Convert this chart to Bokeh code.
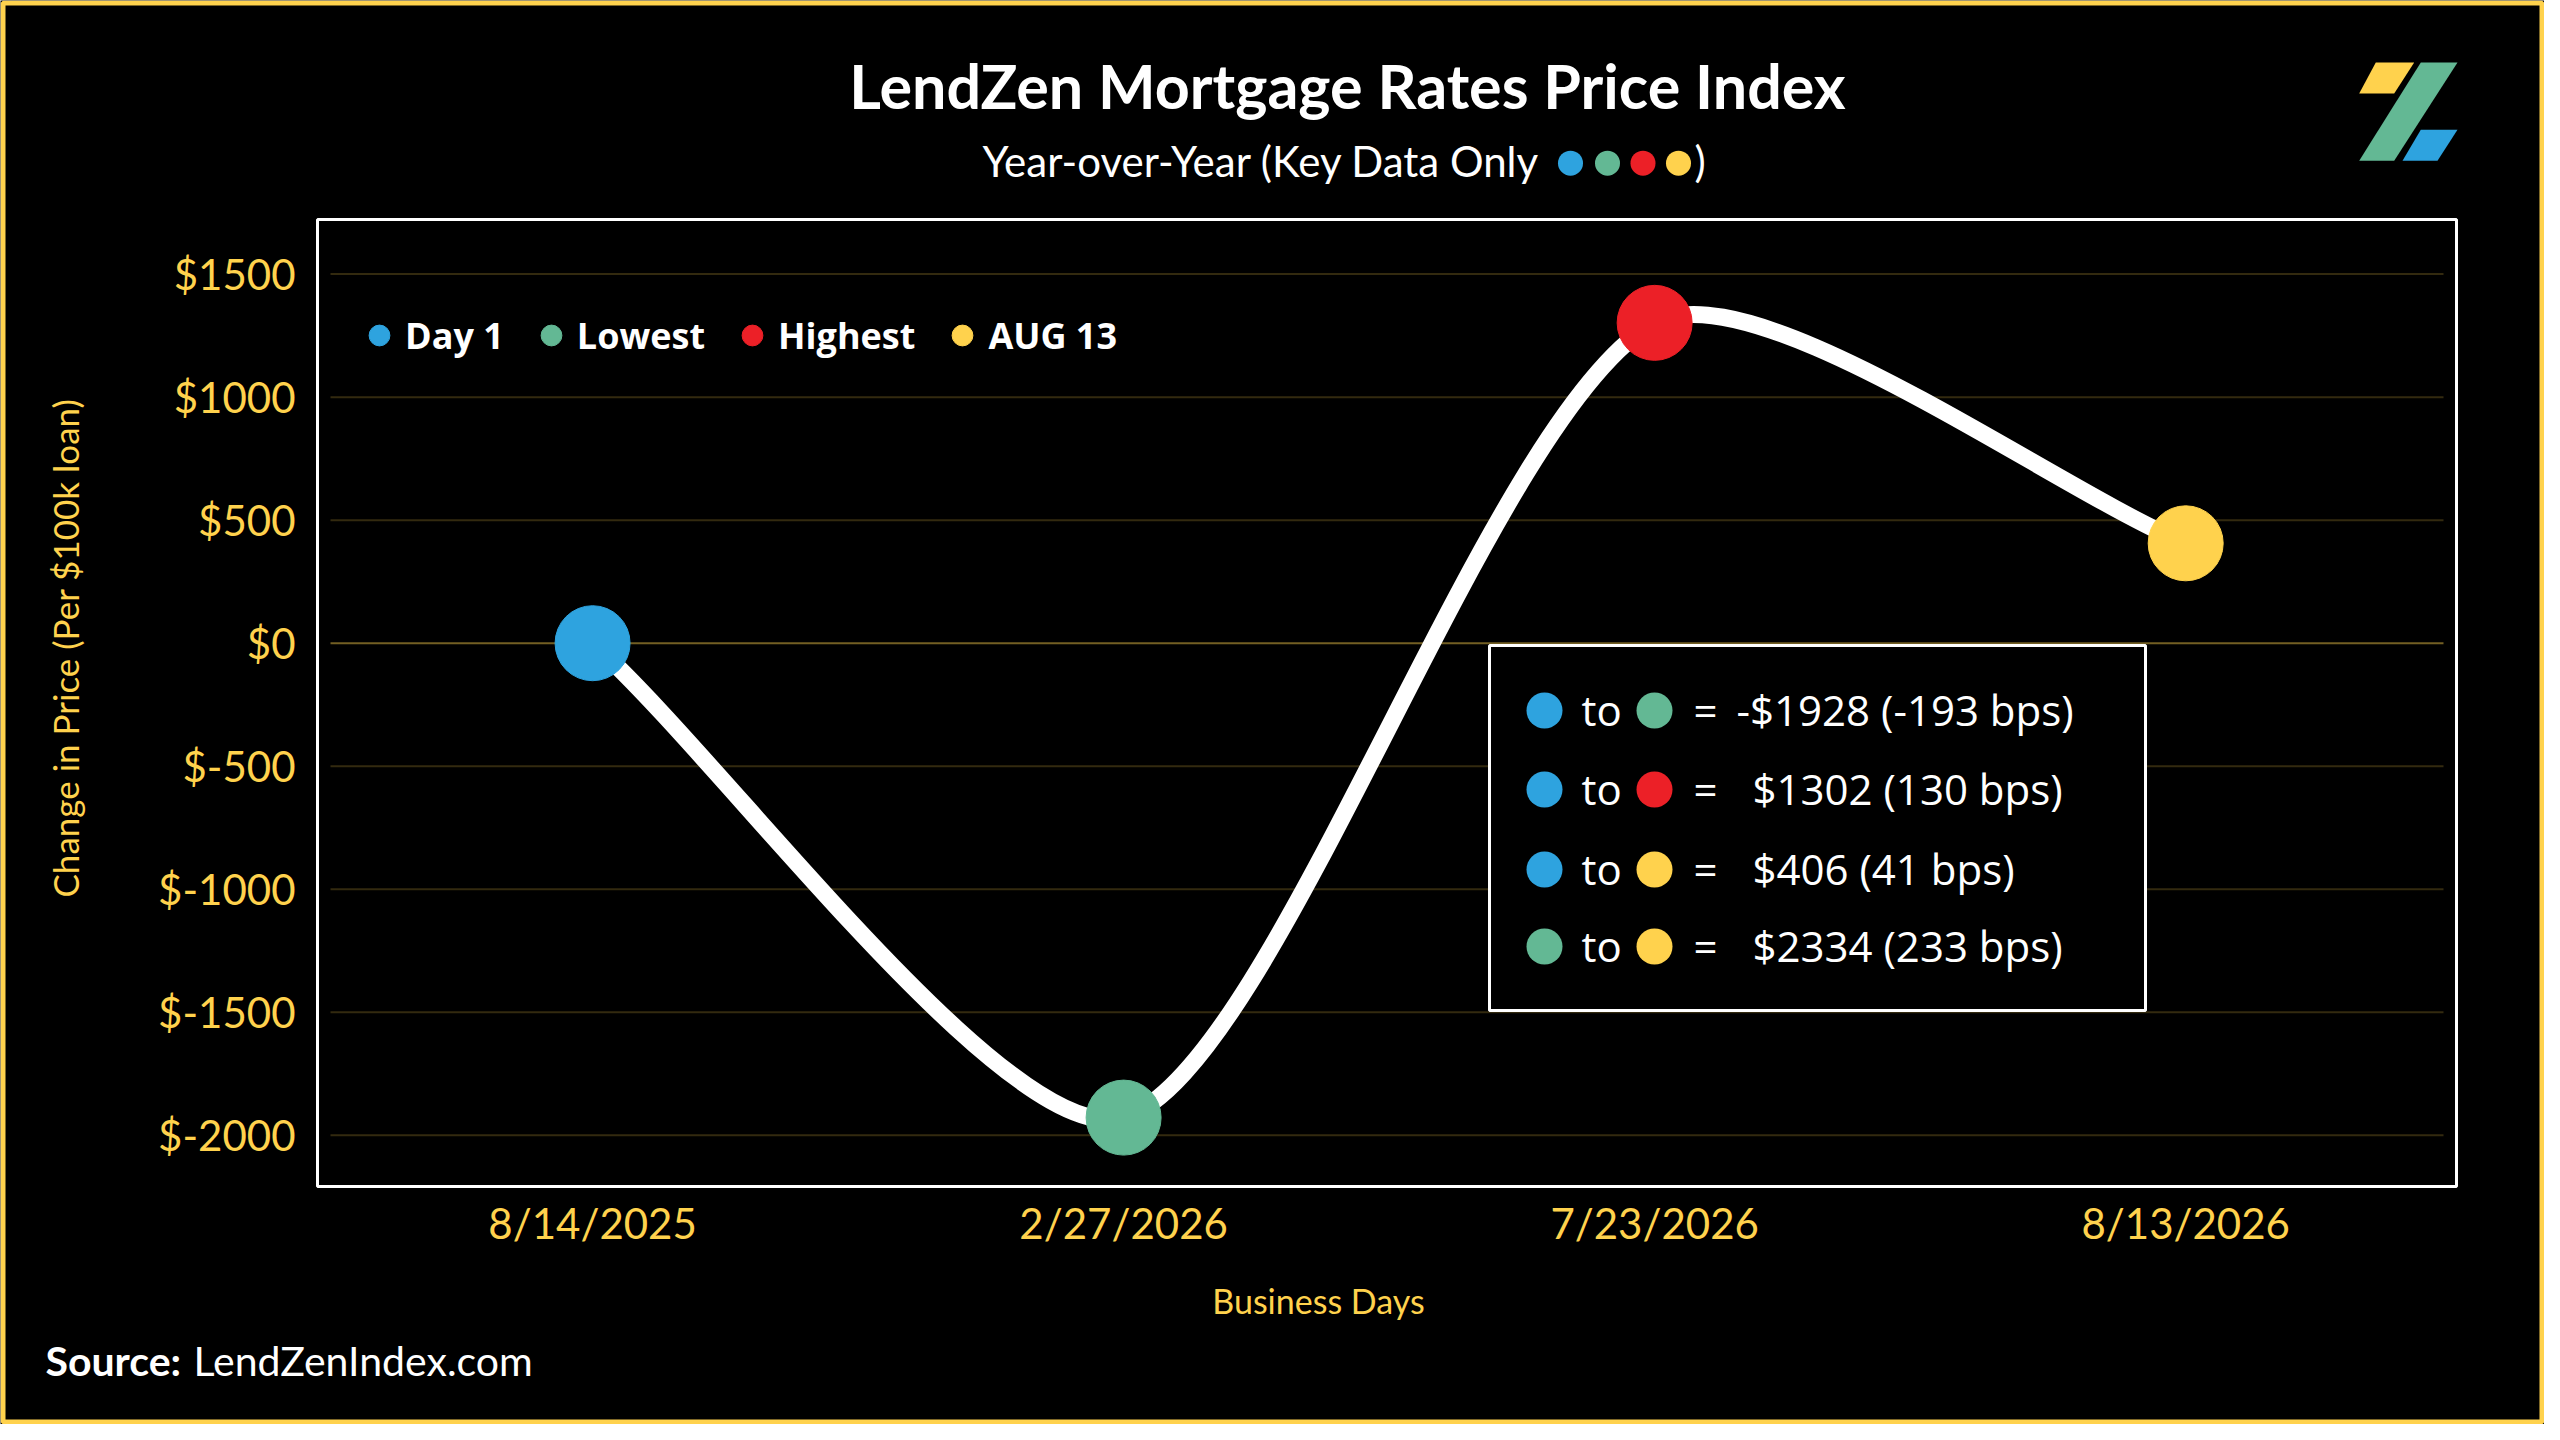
import math
from bokeh.plotting import figure
from bokeh.models import (Range1d, FixedTicker, Label, BoxAnnotation, PolyAnnotation,
                          Legend, LegendItem, ColumnDataSource)
from bokeh.embed import file_html
from bokeh.resources import INLINE

# ---------------- data ----------------
dates = ["8/14/2025", "2/27/2026", "7/23/2026", "8/13/2026"]
point_labels = ["Day 1", "Lowest", "Highest", "AUG 13"]
values = [0, -1928, 1302, 406]
point_colors = ["#2EA3DF", "#63B894", "#EC2027", "#FFD24D"]

y_ticks = [1500, 1000, 500, 0, -500, -1000, -1500, -2000]
y_tick_labels = ["$1500", "$1000", "$500", "$0", "$-500", "$-1000", "$-1500", "$-2000"]

summary_pairs = [(0, 1), (0, 2), (0, 3), (1, 3)]
summary_texts = ["-$1928 (-193 bps)", "$1302 (130 bps)", "$406 (41 bps)", "$2334 (233 bps)"]

title_text = "LendZen Mortgage Rates Price Index"
subtitle_text = "Year-over-Year (Key Data Only"
y_label_text = "Change in Price (Per $100k loan)"
x_label_text = "Business Days"
source_bold, source_text = "Source:", "LendZenIndex.com"

# ---------------- layout / style ----------------
YELLOW = "#FFD24D"
W, H = 2544, 1424
OFF = 8                                 # reference pixel -> canvas pixel offset
BOX_X = (-0.518, 3.51)                  # plot box extent, data units
BOX_Y = (-2208, 1722)
BOX_PX_L, BOX_PX_R, BOX_PX_T, BOX_PX_B = 317, 2456, 219, 1186   # plot box on canvas
TENSION = 0.25

xpx = (BOX_PX_R - BOX_PX_L) / (BOX_X[1] - BOX_X[0])
ypx = (BOX_PX_B - BOX_PX_T) / (BOX_Y[1] - BOX_Y[0])
x_range = Range1d(BOX_X[0] - BOX_PX_L / xpx, BOX_X[1] + (W - BOX_PX_R) / xpx)
y_range = Range1d(BOX_Y[0] - (H - BOX_PX_B) / ypx, BOX_Y[1] + BOX_PX_T / ypx)

x_idx = list(range(len(dates)))

p = figure(width=W, height=H, x_range=x_range, y_range=y_range,
           output_backend="svg", toolbar_location=None,
           background_fill_color="black", border_fill_color="black",
           min_border=0, min_border_left=0, min_border_right=0, min_border_top=0, min_border_bottom=0)
p.outline_line_color = None
p.xgrid.visible = False
p.ygrid.visible = False

# axes, pinned to the edges of the plot box
for ax in (p.xaxis[0], p.yaxis[0]):
    ax.axis_line_color = None
    ax.major_tick_line_color = None
    ax.minor_tick_line_color = None
    ax.major_label_text_font = "Lato"
    ax.major_label_text_font_size = "42px"
    ax.major_label_text_color = YELLOW
p.yaxis[0].fixed_location = BOX_X[0]
p.yaxis[0].ticker = FixedTicker(ticks=y_ticks)
p.yaxis[0].major_label_overrides = {t: l for t, l in zip(y_ticks, y_tick_labels)}
p.yaxis[0].major_label_standoff = 16
p.xaxis[0].fixed_location = BOX_Y[0]
p.xaxis[0].ticker = FixedTicker(ticks=x_idx)
p.xaxis[0].major_label_overrides = {i: d for i, d in zip(x_idx, dates)}
p.xaxis[0].major_label_standoff = 5

# horizontal grid lines at the y ticks, inside the plot box
gap = 13 / xpx
grid_src = ColumnDataSource(dict(
    x0=[BOX_X[0] + gap] * len(y_ticks), x1=[BOX_X[1] - gap] * len(y_ticks),
    y=y_ticks, alpha=[0.45 if t == 0 else 0.2 for t in y_ticks]))
p.segment(x0="x0", x1="x1", y0="y", y1="y", source=grid_src,
          line_color=YELLOW, line_alpha="alpha", line_width=2)

# plot box outline
p.add_layout(BoxAnnotation(left=BOX_X[0], right=BOX_X[1], bottom=BOX_Y[0], top=BOX_Y[1],
                           fill_alpha=0, line_color="white", line_alpha=1, line_width=3,
                           level="underlay"))

# smooth curve (cardinal spline -> bezier segments)
n = len(values)
px = [x * xpx for x in x_idx]
py = [v * ypx for v in values]
prev_c, next_c = [], []
for i in range(n):
    i0, i2 = max(i - 1, 0), min(i + 1, n - 1)
    d01 = math.hypot(px[i] - px[i0], py[i] - py[i0])
    d12 = math.hypot(px[i2] - px[i], py[i2] - py[i])
    tot = d01 + d12
    fa = TENSION * (d01 / tot if tot else 0)
    fb = TENSION * (d12 / tot if tot else 0)
    dx, dy = px[i2] - px[i0], py[i2] - py[i0]
    prev_c.append(((px[i] - fa * dx) / xpx, (py[i] - fa * dy) / ypx))
    next_c.append(((px[i] + fb * dx) / xpx, (py[i] + fb * dy) / ypx))
seg = dict(x0=x_idx[:-1], y0=values[:-1], x1=x_idx[1:], y1=values[1:],
           cx0=[c[0] for c in next_c[:-1]], cy0=[c[1] for c in next_c[:-1]],
           cx1=[c[0] for c in prev_c[1:]], cy1=[c[1] for c in prev_c[1:]])
p.bezier(source=ColumnDataSource(seg), x0="x0", y0="y0", x1="x1", y1="y1",
         cx0="cx0", cy0="cy0", cx1="cx1", cy1="cy1",
         line_color="white", line_width=17, line_cap="round")

pts = ColumnDataSource(dict(x=x_idx, y=values, color=point_colors, label=point_labels))
r_pts = p.scatter("x", "y", source=pts, size=75, fill_color="color", line_color="color")

legend = Legend(items=[LegendItem(label=point_labels[i], renderers=[r_pts], index=i) for i in range(n)],
                orientation="horizontal", location=(353, 1063), padding=0, margin=0, spacing=21,
                glyph_width=52, glyph_height=52, label_standoff=0,
                label_text_font="Open Sans", label_text_font_style="bold", label_text_font_size="36px",
                label_text_color="white", background_fill_alpha=0, border_line_alpha=0)
p.add_layout(legend)


# ---------------- helpers (positions given in reference pixels) ----------------
def sx(X):
    return X - OFF


def sy(Y):
    return H - (Y - OFF)


def lab(text, X, Y, size, color="white", style="normal", align="left", font="Lato", angle=0.0):
    p.add_layout(Label(x=sx(X), y=sy(Y), x_units="screen", y_units="screen", text=text,
                       text_font=font, text_font_size=f"{size}px", text_color=color,
                       text_font_style=style, text_align=align, text_baseline="middle",
                       angle=angle))


def dot(X, Y, d, color):
    r = d / 2
    p.add_layout(BoxAnnotation(left=sx(X - r), right=sx(X + r), bottom=sy(Y + r), top=sy(Y - r),
                               left_units="screen", right_units="screen",
                               bottom_units="screen", top_units="screen",
                               fill_color=color, fill_alpha=1, line_alpha=0,
                               border_radius=int(math.ceil(r)), level="overlay"))


def poly(pts_xy, color):
    p.add_layout(PolyAnnotation(xs=[sx(x) for x, _ in pts_xy], ys=[sy(y) for _, y in pts_xy],
                                xs_units="screen", ys_units="screen",
                                fill_color=color, fill_alpha=1, line_alpha=0))


# outer yellow border
p.add_layout(BoxAnnotation(left=2.5, right=W - 2.5, bottom=2.5, top=H - 2.5,
                           left_units="screen", right_units="screen",
                           bottom_units="screen", top_units="screen",
                           fill_alpha=0, line_color=YELLOW, line_alpha=1, line_width=5))

# title / subtitle
lab(title_text, 1355, 93, 61, style="bold", align="center")
lab(subtitle_text, 990, 168.4, 42)
for cx, c in zip([1578, 1615, 1650.5, 1686], point_colors):
    dot(cx, 170.7, 25, c)
lab(")", 1702, 168.4, 42)

# logo
poly([(2383.3, 70), (2421.7, 70), (2401.7, 101), (2366.7, 101)], point_colors[3])
poly([(2428.3, 70), (2465, 70), (2401.7, 168.3), (2366.7, 168.3)], point_colors[1])
poly([(2428.3, 137.3), (2465, 137.3), (2445, 168.3), (2410, 168.3)], point_colors[0])

# axis titles
lab(y_label_text, 72, 655.5, 35, color=YELLOW, align="center", angle=math.pi / 2)
lab(x_label_text, 1326, 1307.5, 34, color=YELLOW, align="center")

# source
lab(source_bold, 53, 1367.5, 41, style="bold")
lab(source_text, 201, 1367.5, 41)

# summary box
p.add_layout(BoxAnnotation(left=sx(1497), right=sx(2153), bottom=sy(1018), top=sy(653),
                           left_units="screen", right_units="screen",
                           bottom_units="screen", top_units="screen",
                           fill_color="black", fill_alpha=1, line_color="white", line_alpha=1,
                           line_width=3))
rows_y = [718, 797, 877, 954]
for (a, b), txt, ry in zip(summary_pairs, summary_texts, rows_y):
    dot(1552, ry, 36, point_colors[a])
    lab("to", 1589, ry - 1, 42, font="Open Sans")
    dot(1662, ry, 36, point_colors[b])
    lab("=", 1713, ry - 1, 42, font="Open Sans", align="center")
    lab(txt, 1744 if txt.startswith("-") else 1760, ry - 1, 42, font="Open Sans")

open("out.html", "w").write(file_html(p, INLINE))
